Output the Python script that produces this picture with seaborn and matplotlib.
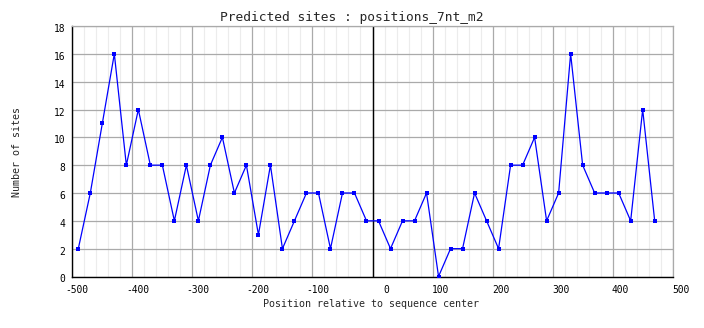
import matplotlib
matplotlib.use("Agg")
import matplotlib.pyplot as plt
from matplotlib.ticker import MultipleLocator
from matplotlib.transforms import ScaledTranslation
import seaborn as sns
import pandas as pd

# Bin centres (20 nt bins) and number of predicted sites in each bin
positions = [-490, -470, -450, -430, -410, -390, -370, -350, -330, -310,
             -290, -270, -250, -230, -210, -190, -170, -150, -130, -110,
             -90, -70, -50, -30, -10, 10, 30, 50, 70, 90,
             110, 130, 150, 170, 190, 210, 230, 250, 270, 290,
             310, 330, 350, 370, 390, 410, 430, 450, 470]
site_counts = [2, 6, 11, 16, 8, 12, 8, 8, 4, 8,
               4, 8, 10, 6, 8, 3, 8, 2, 4, 6,
               6, 2, 6, 6, 4, 4, 2, 4, 4, 6,
               0, 2, 2, 6, 4, 2, 8, 8, 10, 4,
               6, 16, 8, 6, 6, 6, 4, 12, 4]
x_ticks = [-500, -400, -300, -200, -100, 0, 100, 200, 300, 400, 500]
y_ticks = [0, 2, 4, 6, 8, 10, 12, 14, 16, 18]

title = "Predicted sites : positions_7nt_m2"
x_title = "Position relative to sequence center"
y_title = "Number of sites"

df = pd.DataFrame({"position": positions, "sites": site_counts})

sns.set_style("white")
plt.rcParams["font.family"] = ["DejaVu Sans Mono", "DejaVu Sans"]

W, H, DPI = 704, 328, 100
fig = plt.figure(figsize=(W / DPI, H / DPI), dpi=DPI)
ax = fig.add_axes([72.3 / W, 51.5 / H, 600.4 / W, 250.5 / H])

# grid: light minor verticals every 20, grey majors
ax.xaxis.set_minor_locator(MultipleLocator(20))
ax.grid(which="minor", axis="x", color="#ececec", linewidth=0.8, zorder=0)
ax.grid(which="major", axis="both", color="#aaaaaa", linewidth=0.9, zorder=0.5)
ax.set_axisbelow(True)

# sequence centre marker
ax.axvline(0, color="black", linewidth=1.0, zorder=1)

sns.lineplot(data=df, x="position", y="sites", ax=ax, color="#0000ff",
             linewidth=0.9, marker="s", markersize=3, markeredgewidth=0,
             zorder=3)

ax.set_xlim(-500, 500)
ax.set_ylim(0, 18)
ax.set_xticks(x_ticks)
ax.set_yticks(y_ticks)
ax.set_xticklabels([str(v) for v in x_ticks])
ax.set_yticklabels([str(v) for v in y_ticks])
ax.tick_params(axis="both", which="both", length=0, labelsize=6.9,
               labelcolor="black")
ax.tick_params(axis="x", pad=6)
ax.tick_params(axis="y", pad=5)
ax.set_xlabel("")
ax.set_ylabel("")

# x labels sit right-aligned just past their grid line
shift = ScaledTranslation(16.5 / DPI, 0, fig.dpi_scale_trans)
for lbl in ax.get_xticklabels():
    lbl.set_horizontalalignment("right")
    lbl.set_transform(lbl.get_transform() + shift)
yshift = ScaledTranslation(0, -2 / DPI, fig.dpi_scale_trans)
for lbl in ax.get_yticklabels():
    lbl.set_transform(lbl.get_transform() + yshift)

for side in ("left", "bottom"):
    ax.spines[side].set_color("black")
    ax.spines[side].set_linewidth(1.0)
for side in ("top", "right"):
    ax.spines[side].set_color("#aaaaaa")
    ax.spines[side].set_linewidth(0.9)

fig.text(351.5 / W, 1 - 17.5 / H, title, ha="center", va="center",
         fontsize=9.3)
fig.text(370.7 / W, 1 - 304 / H, x_title, ha="center", va="center",
         fontsize=7.2)
fig.text(17.5 / W, 1 - 152 / H, y_title, ha="center", va="center",
         rotation=90, fontsize=7.2)

fig.savefig("out.png", dpi=DPI, facecolor="white")
